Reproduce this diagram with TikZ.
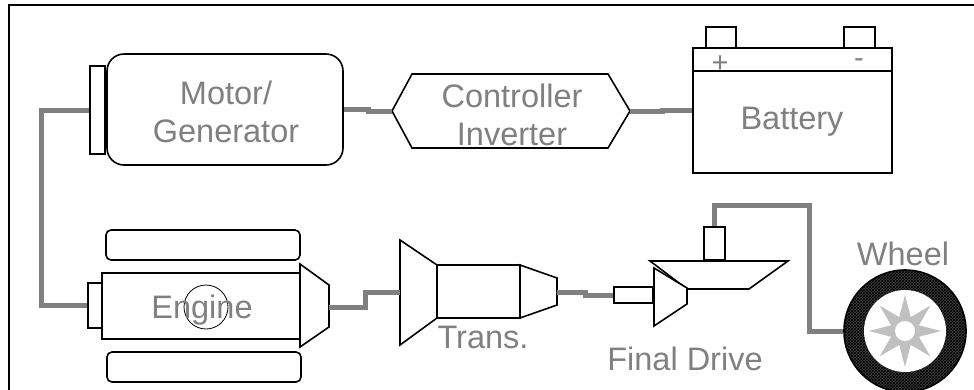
\documentclass[tikz,border=0pt]{standalone}
\usepackage{fontspec}
\setmainfont{Liberation Sans}
\usetikzlibrary{patterns,shapes.geometric}
\definecolor{shaftgray}{RGB}{128,128,128}
\definecolor{labelgray}{RGB}{128,128,128}
\definecolor{stargray}{RGB}{192,192,192}
\tikzset{
	part/.style = {draw=black,line width=1.6pt,fill=white,inner sep=0pt},
	shaft/.style = {draw=shaftgray,line width=5pt},
	lbl/.style = {text=labelgray,font=\fontsize{32.5}{38.5}\selectfont,align=center,inner sep=0pt}
}

\begin{document}
\begin{tikzpicture}[x=1pt,y=-1pt]
		\useasboundingbox (0,0) rectangle (974,389);
		\draw[line width=1.8pt] (9,400) -- (9,5) -- (990,5);
		% motor / generator
		\node[part,minimum width=15,minimum height=88] (mflange) at (97.5,110) {};
		\node[part,rounded corners=17,minimum width=236,minimum height=111] (motor) at (225,109.5) {};
		\node[lbl] (motorlbl) at (226,112) {Motor/\\Generator};
		% controller / inverter
		\coordinate (ctrlW) at (392,111);
		\coordinate (ctrlE) at (630,111);
		\draw[part] (ctrlW) -- (412,74) -- (608,74) -- (ctrlE) -- (608,148) -- (412,148) -- cycle;
		\node[lbl] (ctrllbl) at (512,115) {Controller\\Inverter};
		% battery
		\node[part,minimum width=30,minimum height=21] (plus) at (721,37.5) {};
		\node[part,minimum width=31,minimum height=21] (minus) at (859.5,37.5) {};
		\node[part,minimum width=199,minimum height=125] (bat) at (792.5,110.5) {};
		\node[lbl,font=\fontsize{29}{30}\selectfont] (pluslbl) at (720,64) {+};
		\node[lbl,font=\fontsize{29}{30}\selectfont] (minuslbl) at (859,63) {-};
		\draw[line width=1.6pt] (bat.west |- 0,71) -- (bat.east |- 0,71);
		\node[lbl,anchor=base] (batlbl) at (792,129) {Battery};
		% engine
		\node[part,rounded corners=5,minimum width=194,minimum height=30] (etop) at (203,245) {};
		\node[part,rounded corners=5,minimum width=194,minimum height=30] (ebot) at (204,367) {};
		\node[part,minimum width=15,minimum height=45] (eflange) at (95.5,305.5) {};
		\node[part,minimum width=198,minimum height=66] (eng) at (201,306) {};
		\coordinate (engOut) at (329,307);
		\draw[part] (300,264) -- (329,285) -- (329,327) -- (300,347) -- cycle;
		\draw[line width=0.8pt] (206,307) circle (22);
		\node[lbl,anchor=base] (englbl) at (202,318) {Engine};
		% transmission
		\coordinate (transIn) at (400,292);
		\coordinate (transOut) at (557,292);
		\draw[part] (transIn |- 0,240) -- (437,265) -- (437,318) -- (transIn |- 0,345) -- cycle;
		\node[part,minimum width=83,minimum height=53] (trans) at (478.5,291.5) {};
		\draw[part] (520,265) -- (557,278) -- (557,305) -- (520,318) -- cycle;
		\node[lbl,anchor=base] (translbl) at (483,348) {Trans.};
		% final drive
		\node[part,minimum width=39,minimum height=16] (fdin) at (633.5,295) {};
		\draw[part] (650,261) -- (788,261) -- (749,289) -- (687,289) -- cycle;
		\draw[part] (654,268) -- (687,288) -- (687,304) -- (654,326) -- cycle;
		\node[part,minimum width=21,minimum height=33] (fdout) at (714.5,243.5) {};
		\node[lbl,anchor=base] (fdlbl) at (685,370) {Final Drive};
		% wheel
		\node[circle,draw=black,line width=1.6pt,minimum size=122,
			preaction={fill=black!75},pattern=crosshatch,pattern color=black] (wheel) at (905,331) {};
		\node[circle,fill=white,minimum size=82] (rim) at (wheel.center) {};
		\node[star,star points=8,star point ratio=2.4,minimum size=72,inner sep=0pt,fill=stargray] (spokes) at (wheel.center) {};
		\node[circle,fill=white,minimum size=20,inner sep=0pt] (hub) at (wheel.center) {};
		\node[lbl,anchor=base] (wheellbl) at (903,265) {Wheel};
		% shafts
		\draw[shaft] (motor.east) -- ++(25,0) |- (ctrlW);
		\draw[shaft] (ctrlE) -- ++(32,0) |- (bat.west |- 0,110);
		\draw[shaft] (mflange.west) -- ++(-48,0) |- (eflange.west);
		\draw[shaft] (engOut) -- ++(36,0) |- (transIn);
		\draw[shaft] (transOut) -- ++(28,0) |- (fdin.west);
		\draw[shaft] (fdout.north) |- (809,205) |- (wheel.west);
	\end{tikzpicture}
\end{document}
